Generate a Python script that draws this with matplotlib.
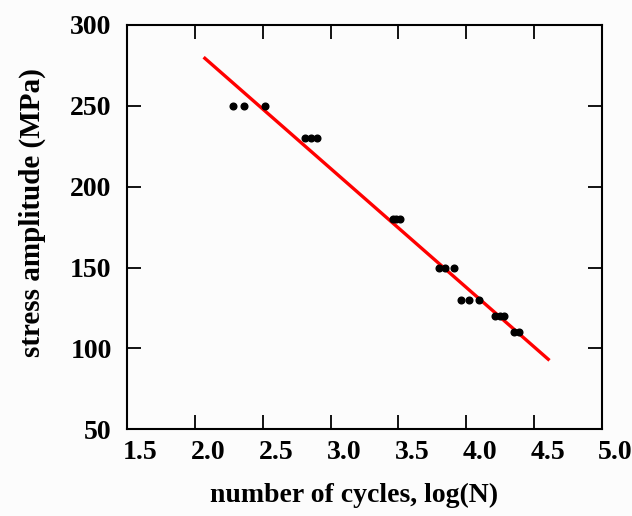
import matplotlib
matplotlib.use("Agg")
import matplotlib.pyplot as plt
import matplotlib.transforms as mtransforms

# ── Data ──────────────────────────────────────────────────────────────────────
log_n = [2.28, 2.36, 2.52,
         2.81, 2.855, 2.90,
         3.457, 3.482, 3.511,
         3.80, 3.84, 3.91,
         3.96, 4.02, 4.095,
         4.21, 4.25, 4.28,
         4.355, 4.39]
stress = [250, 250, 250,
          230, 230, 230,
          180, 180, 180,
          150, 150, 150,
          130, 130, 130,
          120, 120, 120,
          110, 110]

fit_x = [2.074, 4.604]
fit_y = [279.4, 93.3]

x_ticks = [1.5, 2.0, 2.5, 3.0, 3.5, 4.0, 4.5, 5.0]
y_ticks = [50, 100, 150, 200, 250, 300]

# ── Style ─────────────────────────────────────────────────────────────────────
plt.rcParams["font.family"] = ["Liberation Serif", "DejaVu Serif"]
plt.rcParams["font.weight"] = "bold"

fig = plt.figure(figsize=(6.32, 5.16), dpi=100, facecolor="#fcfcfc")
ax = fig.add_axes([0.2009, 0.168, 0.7516, 0.7836])
ax.set_facecolor("#fcfcfc")

ax.plot(fit_x, fit_y, color="#ff0000", linewidth=2.4, zorder=2)
ax.plot(log_n, stress, "o", color="black", markersize=4.8, zorder=3)

ax.set_xlim(1.5, 5.0)
ax.set_ylim(50, 300)
ax.set_xticks(x_ticks)
ax.set_yticks(y_ticks)
ax.set_xticklabels([f"{v:.1f}" for v in x_ticks])
ax.set_yticklabels([str(v) for v in y_ticks])

ax.tick_params(direction="in", length=10, width=1.3, top=True, right=True,
               labelsize=20, pad=11)
ax.tick_params(axis="x", pad=8)
for s in ax.spines.values():
    s.set_linewidth(1.5)

# the x labels in the original sit a bit right of their ticks
shift = mtransforms.ScaledTranslation(13.5 / 100, 0, fig.dpi_scale_trans)
for lbl in ax.get_xticklabels():
    lbl.set_transform(lbl.get_transform() + shift)

ax.set_xlabel("number of cycles, log(N)", fontsize=20, fontweight="bold")
ax.set_ylabel("stress amplitude (MPa)", fontsize=21, fontweight="bold")
ax.xaxis.set_label_coords(0.479, -0.133)
ax.yaxis.set_label_coords(-0.17, 0.537)

fig.savefig("out.png", dpi=100, facecolor=fig.get_facecolor())
